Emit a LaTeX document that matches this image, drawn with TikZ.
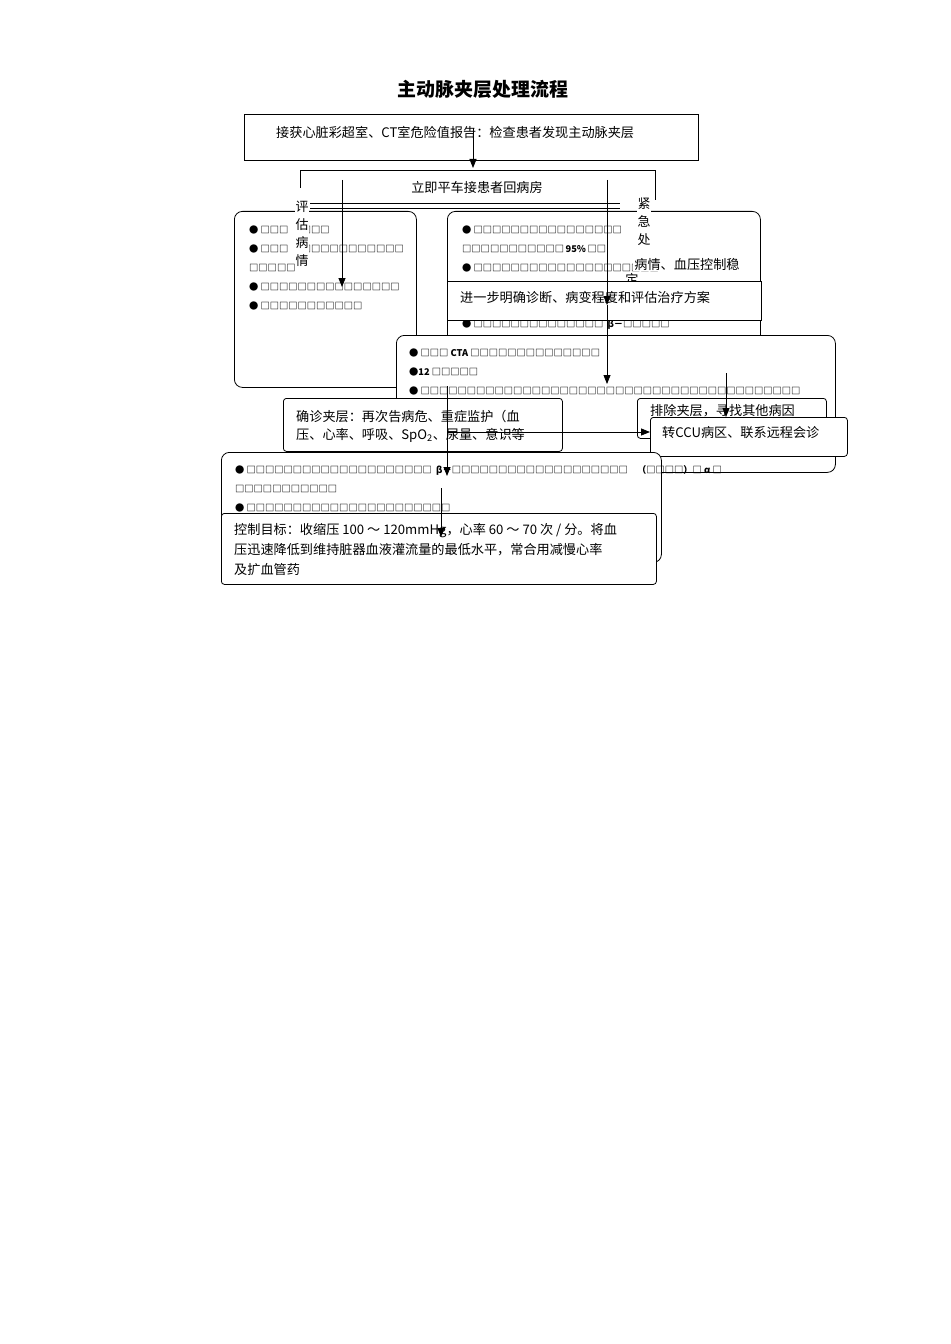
\documentclass[tikz,border=0pt]{standalone}
\usepackage{fontspec}
\newfontfamily\cjk{Noto Sans CJK SC}
\usetikzlibrary{arrows.meta}
\begin{document}
\begin{tikzpicture}[x=1bp,y=-1bp,
 bx/.style={draw,line width=0.8pt,fill=white},
 rb/.style={bx,rounded corners=8bp},
 tx/.style={anchor=west,inner sep=0pt,font=\cjk\fontsize{13.2}{14}\selectfont},
 tb/.style={anchor=west,inner sep=0pt,font=\cjk\fontsize{9.3}{11}\selectfont\bfseries},
 ar/.style={-{Triangle[length=9bp,width=7bp]},line width=0.8pt}]
\useasboundingbox[fill=white] (0,0) rectangle (950,1344);
\node (title) at (483,89) {\cjk\fontsize{19}{22}\selectfont\bfseries 主动脉夹层处理流程};
\node[bx,minimum width=454bp,minimum height=46bp,anchor=north west] (b1) at (244,114) {};
\node[tx] at (276,132) {接获心脏彩超室、CT室危险值报告：检查患者发现主动脉夹层};
\draw[line width=0.8pt] (300,188) -- (300,170) -- (655,170) -- (655,200);
\node (b2) at (477,187) {\cjk\fontsize{13.2}{14}\selectfont 立即平车接患者回病房};
\draw[line width=0.6pt] (310,203) -- (620,203) (310,208) -- (620,208);
% left box
\node[rb,minimum width=182bp,minimum height=176bp,anchor=north west] (L) at (234,211) {};
\node[tb] at (249,230) {● □□□\quad\ \ □□□};
\node[tb] at (249,249) {● □□□\quad\ \ □□□□□□□□□□□};
\node[tb] at (249,268) {□□□□□};
\node[tb] at (249,287) {● □□□□□□□□□□□□□□□};
\node[tb] at (249,306) {● □□□□□□□□□□□};
\node[fill=white,inner sep=1pt,align=center,font=\cjk\fontsize{13}{20}\selectfont] (pg) at (302,234) {评\\[-2pt]估\\[-2pt]病\\[-2pt]情};
% right box
\node[rb,minimum width=313bp,minimum height=135bp,anchor=north west] (R) at (447,211) {};
\node[tb] at (462,230) {● □□□□□□□□□□□□□□□□};
\node[tb] at (462,249) {□□□□□□□□□□□\,95\%\,□□};
\node[tb] at (462,268) {● □□□□□□□□□□□□□□□□□□□□};
\node[tb] at (462,325) {● □□□□□□□□□□□□□□\ \ β－□□□□□};
\node[fill=white,inner sep=1pt,align=center,font=\cjk\fontsize{13}{20}\selectfont] (jj) at (644,222) {紧\\[-2pt]急\\[-2pt]处};
\node[fill=white,inner sep=1pt,font=\cjk\fontsize{13.2}{14}\selectfont] (st) at (687,264) {病情、血压控制稳};
\node[inner sep=0pt,font=\cjk\fontsize{13.2}{14}\selectfont] at (632,279) {定};
\node[bx,minimum width=314bp,minimum height=39bp,anchor=north west] (b3) at (447,281) {};
\node[tx] at (460,297) {进一步明确诊断、病变程度和评估治疗方案};
% CTA box
\node[rb,minimum width=439bp,minimum height=137bp,anchor=north west] (C) at (396,335) {};
\node[tb] at (409,353) {● □□□ CTA □□□□□□□□□□□□□□};
\node[tb] at (409,372) {●12 □□□□□};
\node[tb] at (409,391) {● □□□□□□□□□□□□□□□□□□□□□□□□□□□□□□□□□□□□□□□□□};
\node[bx,minimum width=279bp,minimum height=53bp,anchor=north west,rounded corners=3bp] (D) at (283,398) {};
\node[tx] at (296,416) {确诊夹层：再次告病危、重症监护（血};
\node[tx] at (296,435) {压、心率、呼吸、SpO\textsubscript{2}、尿量、意识等};
\node[bx,minimum width=189bp,minimum height=40bp,anchor=north west,rounded corners=3bp] (E) at (637,398) {};
\node[tx] at (650,411) {排除夹层，寻找其他病因};
\node[bx,minimum width=197bp,minimum height=39bp,anchor=north west,rounded corners=3bp] (F) at (650,417) {};
\node[tx] at (662,433) {转CCU病区、联系远程会诊};
% treatment box
\node[rb,minimum width=440bp,minimum height=110bp,anchor=north west] (G) at (221,452) {};
\node[tb] at (235,470) {● □□□□□□□□□□□□□□□□□□□□\ \ β－□□□□□□□□□□□□□□□□□□□\quad （□□□□）□\ α\ □};
\node[tb] at (235,489) {□□□□□□□□□□□};
\node[tb] at (235,508) {● □□□□□□□□□□□□□□□□□□□□□□};
\node[bx,minimum width=435bp,minimum height=71bp,anchor=north west,rounded corners=3bp] (H) at (221,513) {};
\node[tx] at (234,531) {控制目标：收缩压 100 ～ 120mmHg，心率 60 ～ 70 次 / 分。将血};
\node[tx] at (234,550) {压迅速降低到维持脏器血液灌流量的最低水平，常合用减慢心率};
\node[tx] at (234,570) {及扩血管药};
% arrows
\coordinate (a1) at (473,128); \coordinate (a1e) at (473,168);
\draw[ar] (a1) -- (a1e);
\coordinate (a2) at (342,180); \coordinate (a2e) at (342,287);
\draw[ar] (a2) -- (a2e);
\coordinate (a3) at (607,180); \coordinate (a3e) at (607,305);
\draw[ar] (a3) -- (a3e);
\coordinate (a4) at (607,305); \coordinate (a4e) at (607,384);
\draw[ar] (a4) -- (a4e);
\coordinate (a5) at (726,373); \coordinate (a5e) at (726,417);
\draw[ar] (a5) -- (a5e);
\coordinate (a6) at (447,386); \coordinate (a6e) at (447,476);
\draw[ar] (a6) -- (a6e);
\coordinate (a7) at (447,432);
\draw[ar] (a7) -- (F.west|-a7);
\coordinate (a8) at (441,488); \coordinate (a8e) at (441,537);
\draw[ar] (a8) -- (a8e);
\end{tikzpicture}
\end{document}
